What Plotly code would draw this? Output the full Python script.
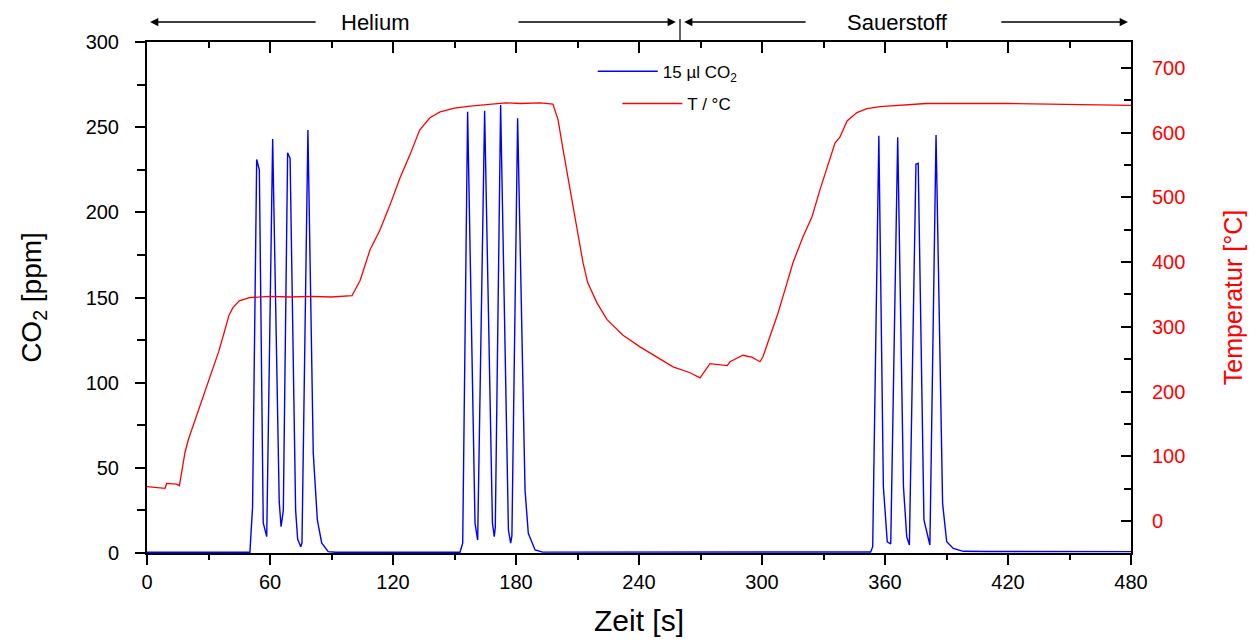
import plotly.graph_objects as go

# ---- CO2 signal (ppm) vs time (s) ----
co2_time = [0, 20, 50.2, 51.5, 53.5, 54.8, 56.7, 58.4, 61.3, 64.5, 65.4, 66.5, 68.6, 69.8,
            72.5, 73.5, 75.0, 75.6, 78.5, 81.1, 83.1, 85.2, 88.4, 92, 120, 152.7, 154.0,
            156.4, 160.0, 161.3, 164.7, 168.5, 169.4, 169.9, 172.5, 176.3, 177.4, 178.0,
            180.8, 184.4, 186.0, 189.3, 193, 240, 290, 300, 330, 353, 354, 357, 359.2,
            361.1, 362.8, 366.2, 369, 370.6, 371.9, 375.1, 376.2, 379, 381.9, 384.9,
            388.1, 390.1, 393.3, 398.2, 410, 440, 480]
co2_ppm = [0.4, 0.4, 0.4, 27, 231, 225, 17.6, 9.6, 243, 30, 15.5, 25, 235, 231.7,
           25, 8, 3.7, 6, 248.4, 58.7, 19.4, 5.9, 0.8, 0.4, 0.4, 0.4, 5.8,
           259.1, 17.6, 7.6, 259.7, 17.6, 9.6, 15, 263, 13.5, 5.8, 10,
           255.2, 37, 11.6, 1.8, 0.5, 0.4, 0.5, 0.7, 0.6, 0.6, 3.7, 244.9, 39,
           6.6, 5.3, 244.1, 39, 9.6, 4.7, 228.2, 228.8, 19.4, 4.7, 245.4,
           29, 6.6, 2.7, 1.0, 0.9, 0.9, 0.8]

# ---- Temperature (°C) vs time (s) ----
temp_time = [0, 6.3, 8.8, 9.6, 14.5, 15.8, 16.9, 18.5, 20.1, 25, 30, 35, 38, 40, 42, 45, 50,
             55, 60, 70, 80, 90, 100, 104, 108.8, 113.7, 118.5, 123.4, 128.3, 133, 138,
             143, 150, 157.6, 167, 175, 182, 191.7, 198, 200.5, 203, 206.3, 209.8, 212.7,
             215, 219.5, 224.4, 232.2, 240.5, 248.8, 256.6, 264.9, 269.8, 274.6, 279.5,
             283, 284.4, 290.7, 295, 299, 300.5, 304.9, 307.8, 311.2, 315.1, 320, 324.4,
             328.3, 332.2, 335.6, 338, 341.5, 346.3, 351.2, 357.6, 380, 420, 450, 480]
temp_c = [53, 52, 50.5, 58, 57, 54.6, 74, 105, 125, 170, 215, 262, 295, 318, 330, 340, 345,
          346, 347, 346, 347, 346, 348, 372, 419, 450, 488, 530, 566, 604, 623,
          632, 638, 641, 644, 646, 645, 646, 644, 620, 573, 512, 450, 399,
          368, 337, 311, 287, 269, 253, 238, 229, 221, 243, 241,
          240, 246, 256, 253, 246, 254, 295, 321, 357, 399, 439, 470,
          512, 550, 584, 593, 618, 631, 637, 640, 645, 645, 644, 642]

# ---- tick definitions ----
x_ticks = [0, 60, 120, 180, 240, 300, 360, 420, 480]
co2_ticks = [0, 50, 100, 150, 200, 250, 300]
temp_ticks = [0, 100, 200, 300, 400, 500, 600, 700]

# ---- phase labels on top ----
phase_names = ["Helium", "Sauerstoff"]
phase_text_x = [111, 366]
phase_arrows = [(83, 1.5), (180.5, 258), (322, 262), (416, 478.5)]  # (tail, tip)
phase_divider = 260

FONT = "Liberation Sans, Arial, sans-serif"

fig = go.Figure()
fig.add_trace(go.Scatter(x=co2_time, y=co2_ppm, mode="lines",
                         line=dict(color="#0000FF", width=1.4),
                         name="15 µl CO<sub>2</sub>", legend="legend",
                         xaxis="x", yaxis="y"))
fig.add_trace(go.Scatter(x=temp_time, y=temp_c, mode="lines",
                         line=dict(color="#FF0000", width=1.3),
                         name="T / °C", legend="legend2",
                         xaxis="x2", yaxis="y2"))

axis_common = dict(showgrid=False, zeroline=False, showline=True, automargin=False,
                   linecolor="black", linewidth=2, tickcolor="black", tickwidth=2)

fig.update_layout(
    width=1252, height=633,
    margin=dict(l=139, r=129, t=34, b=88),
    plot_bgcolor="white", paper_bgcolor="white",
    font=dict(family=FONT, color="black"),
    xaxis=dict(range=[0, 480], tickvals=x_ticks, ticks="outside", ticklen=10,
               minor=dict(dtick=30, ticks="outside", ticklen=5, tickwidth=2, tickcolor="black"),
               tickfont=dict(size=20),
               title=dict(text="Zeit [s]", font=dict(size=30), standoff=18),
               **axis_common),
    xaxis2=dict(range=[0, 480], overlaying="x", side="top", anchor="y2",
                tickvals=x_ticks, ticks="inside", ticklen=11, showticklabels=False,
                minor=dict(dtick=30, ticks="inside", ticklen=6, tickwidth=2, tickcolor="black"),
                **axis_common),
    yaxis=dict(range=[0, 300], tickvals=co2_ticks, ticks="outside", ticklen=10,
               minor=dict(dtick=25, ticks="outside", ticklen=8, tickwidth=2, tickcolor="black"),
               tickfont=dict(size=20), ticklabelstandoff=12,
               title=dict(text="CO<sub>2</sub> [ppm]", font=dict(size=28), standoff=36),
               **axis_common),
    yaxis2=dict(range=[-49.5, 740], overlaying="y", side="right", anchor="x",
                tickvals=temp_ticks, ticks="inside", ticklen=10,
                minor=dict(dtick=50, ticks="inside", ticklen=7, tickwidth=2, tickcolor="black"),
                tickfont=dict(size=20, color="#FF0000"),
                ticklabelstandoff=15,
                title=dict(text="Temperatur [°C]", font=dict(size=25, color="#FF0000"), standoff=40),
                **axis_common),
    legend=dict(x=0.453, y=0.977, xanchor="left", yanchor="top",
                bgcolor="rgba(0,0,0,0)", itemwidth=60, font=dict(size=17)),
    legend2=dict(x=0.478, y=0.914, xanchor="left", yanchor="top",
                 bgcolor="rgba(0,0,0,0)", itemwidth=60, font=dict(size=17)),
    showlegend=True,
)

annos = []
for name, tx in zip(phase_names, phase_text_x):
    annos.append(dict(x=tx, y=1.039, xref="x", yref="paper", text=name, showarrow=False,
                      font=dict(size=22, family=FONT), xanchor="center", yanchor="middle"))
for tail, tip in phase_arrows:
    annos.append(dict(x=tip, y=1.039, xref="x", yref="paper", text="", showarrow=True,
                      ax=tail, axref="x", ay=0, ayref="pixel",
                      arrowhead=2, arrowsize=1.1, arrowwidth=1.5, arrowcolor="black"))
fig.update_layout(annotations=annos)
fig.add_shape(type="line", x0=phase_divider, x1=phase_divider, y0=1.0, y1=1.045,
              xref="x", yref="paper", line=dict(color="black", width=1.2))

fig.write_html("out.html")
